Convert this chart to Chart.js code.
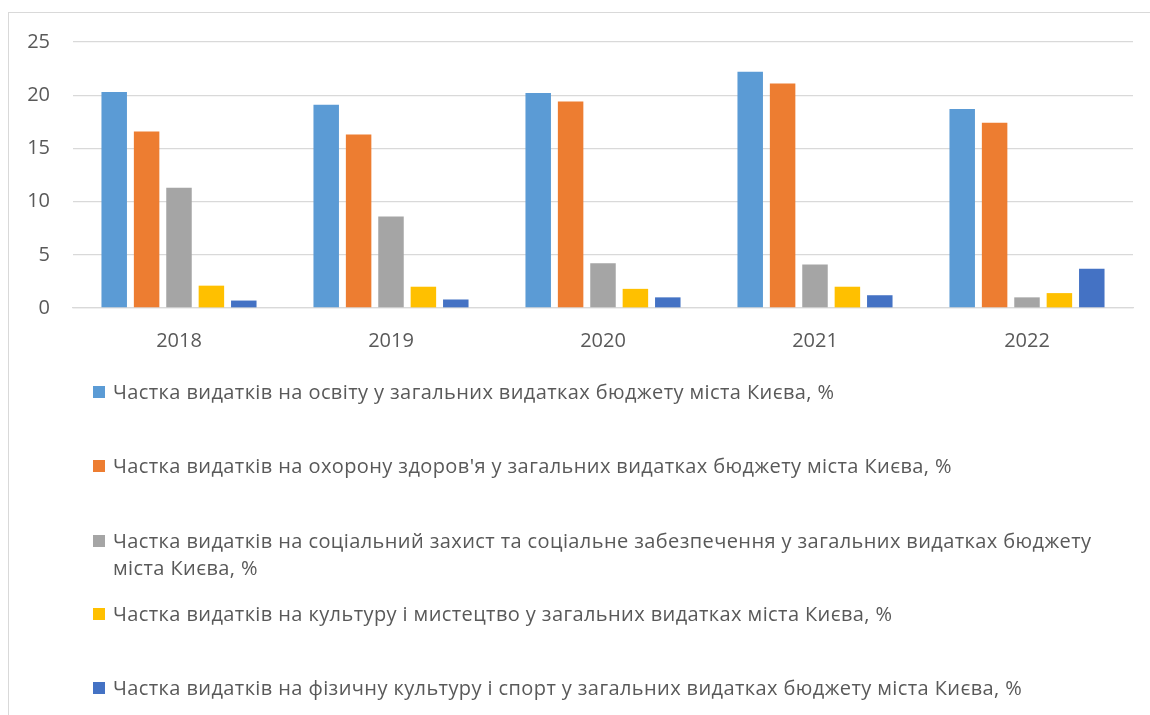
<!DOCTYPE html>
<html>
<head>
<meta charset="utf-8">
<script src="https://cdn.jsdelivr.net/npm/chart.js@4.4.1/dist/chart.umd.min.js"></script>
<style>
  html, body { margin: 0; padding: 0; background: #fff; width: 1150px; height: 715px; overflow: hidden; }
  #frame { position: absolute; left: 8px; top: 12px; width: 1160px; height: 730px; border: 1px solid #d9d9d9; box-sizing: border-box; }
  #wrap { position: absolute; left: 0; top: 0; width: 1150px; height: 360px; }
  #legend { position: absolute; left: 0; top: 0; width: 1150px; height: 715px; pointer-events: none;
            font-family: "Open Sans", "Liberation Sans", Arial, sans-serif; font-size: 20px; letter-spacing: 0.4px; color: #595959; }
  .item { position: absolute; left: 93px; display: flex; align-items: flex-start; }
  .swatch { width: 12px; height: 12px; margin-top: 8px; margin-right: 8px; flex: none; }
  .txt { width: 1010px; line-height: 27px; }
</style>
</head>
<body>
<div id="frame"></div>
<div id="wrap"><canvas id="c" width="1150" height="360"></canvas></div>
<div id="legend"></div>
<script>
// ---- data ----
const categories = ["2018", "2019", "2020", "2021", "2022"];
const seriesLabels = [
  "Частка видатків на освіту у загальних видатках бюджету міста Києва, %",
  "Частка видатків на охорону здоров'я у загальних видатках бюджету міста Києва, %",
  "Частка видатків на соціальний захист та соціальне забезпечення у загальних видатках бюджету міста Києва, %",
  "Частка видатків на культуру і мистецтво у загальних видатках міста Києва, %",
  "Частка видатків на фізичну культуру і спорт у загальних видатках бюджету міста Києва, %"
];
const education = [20.3, 19.1, 20.2, 22.2, 18.7];
const health = [16.6, 16.3, 19.4, 21.1, 17.4];
const social = [11.3, 8.6, 4.2, 4.1, 1.0];
const culture = [2.1, 2.0, 1.8, 2.0, 1.4];
const sport = [0.7, 0.8, 1.0, 1.2, 3.7];
const yTicks = [0, 5, 10, 15, 20, 25];

// ---- styles ----
const colors = ["#5B9BD5", "#ED7D31", "#A5A5A5", "#FFC000", "#4472C4"];
const seriesValues = [education, health, social, culture, sport];
const legendTops = [378, 452, 527, 600, 674];

const datasets = seriesValues.map((vals, i) => ({
  label: seriesLabels[i],
  data: vals,
  backgroundColor: colors[i],
  borderWidth: 0,
  categoryPercentage: 0.764,
  barPercentage: 0.787
}));

Chart.defaults.font.family = '"Open Sans", "Liberation Sans", Arial, sans-serif';

new Chart(document.getElementById("c"), {
  type: "bar",
  data: { labels: categories, datasets },
  options: {
    responsive: false,
    animation: false,
    events: [],
    layout: { padding: { left: 0, right: 17, top: 42, bottom: 0 } },
    plugins: { legend: { display: false }, tooltip: { enabled: false } },
    scales: {
      x: {
        grid: { display: false, drawTicks: false },
        border: { display: true, color: "#d9d9d9", width: 1.3 },
        ticks: { color: "#595959", font: { size: 20 }, padding: 21 },
        afterFit: s => { s.height = 52; }
      },
      y: {
        min: 0, max: 25,
        afterBuildTicks: s => { s.ticks = yTicks.map(v => ({ value: v })); },
        grid: { color: "#d9d9d9", lineWidth: 1.3, drawTicks: false },
        border: { display: false },
        ticks: { color: "#595959", font: { size: 20 }, padding: 23 },
        afterFit: s => { s.width = 73; }
      }
    }
  }
});

// ---- legend (HTML, built from the series labels) ----
const leg = document.getElementById("legend");
seriesLabels.forEach((lab, i) => {
  const it = document.createElement("div");
  it.className = "item";
  it.style.top = legendTops[i] + "px";
  const sw = document.createElement("div");
  sw.className = "swatch";
  sw.style.background = colors[i];
  const tx = document.createElement("div");
  tx.className = "txt";
  tx.textContent = lab;
  it.appendChild(sw); it.appendChild(tx);
  leg.appendChild(it);
});
</script>
</body>
</html>
